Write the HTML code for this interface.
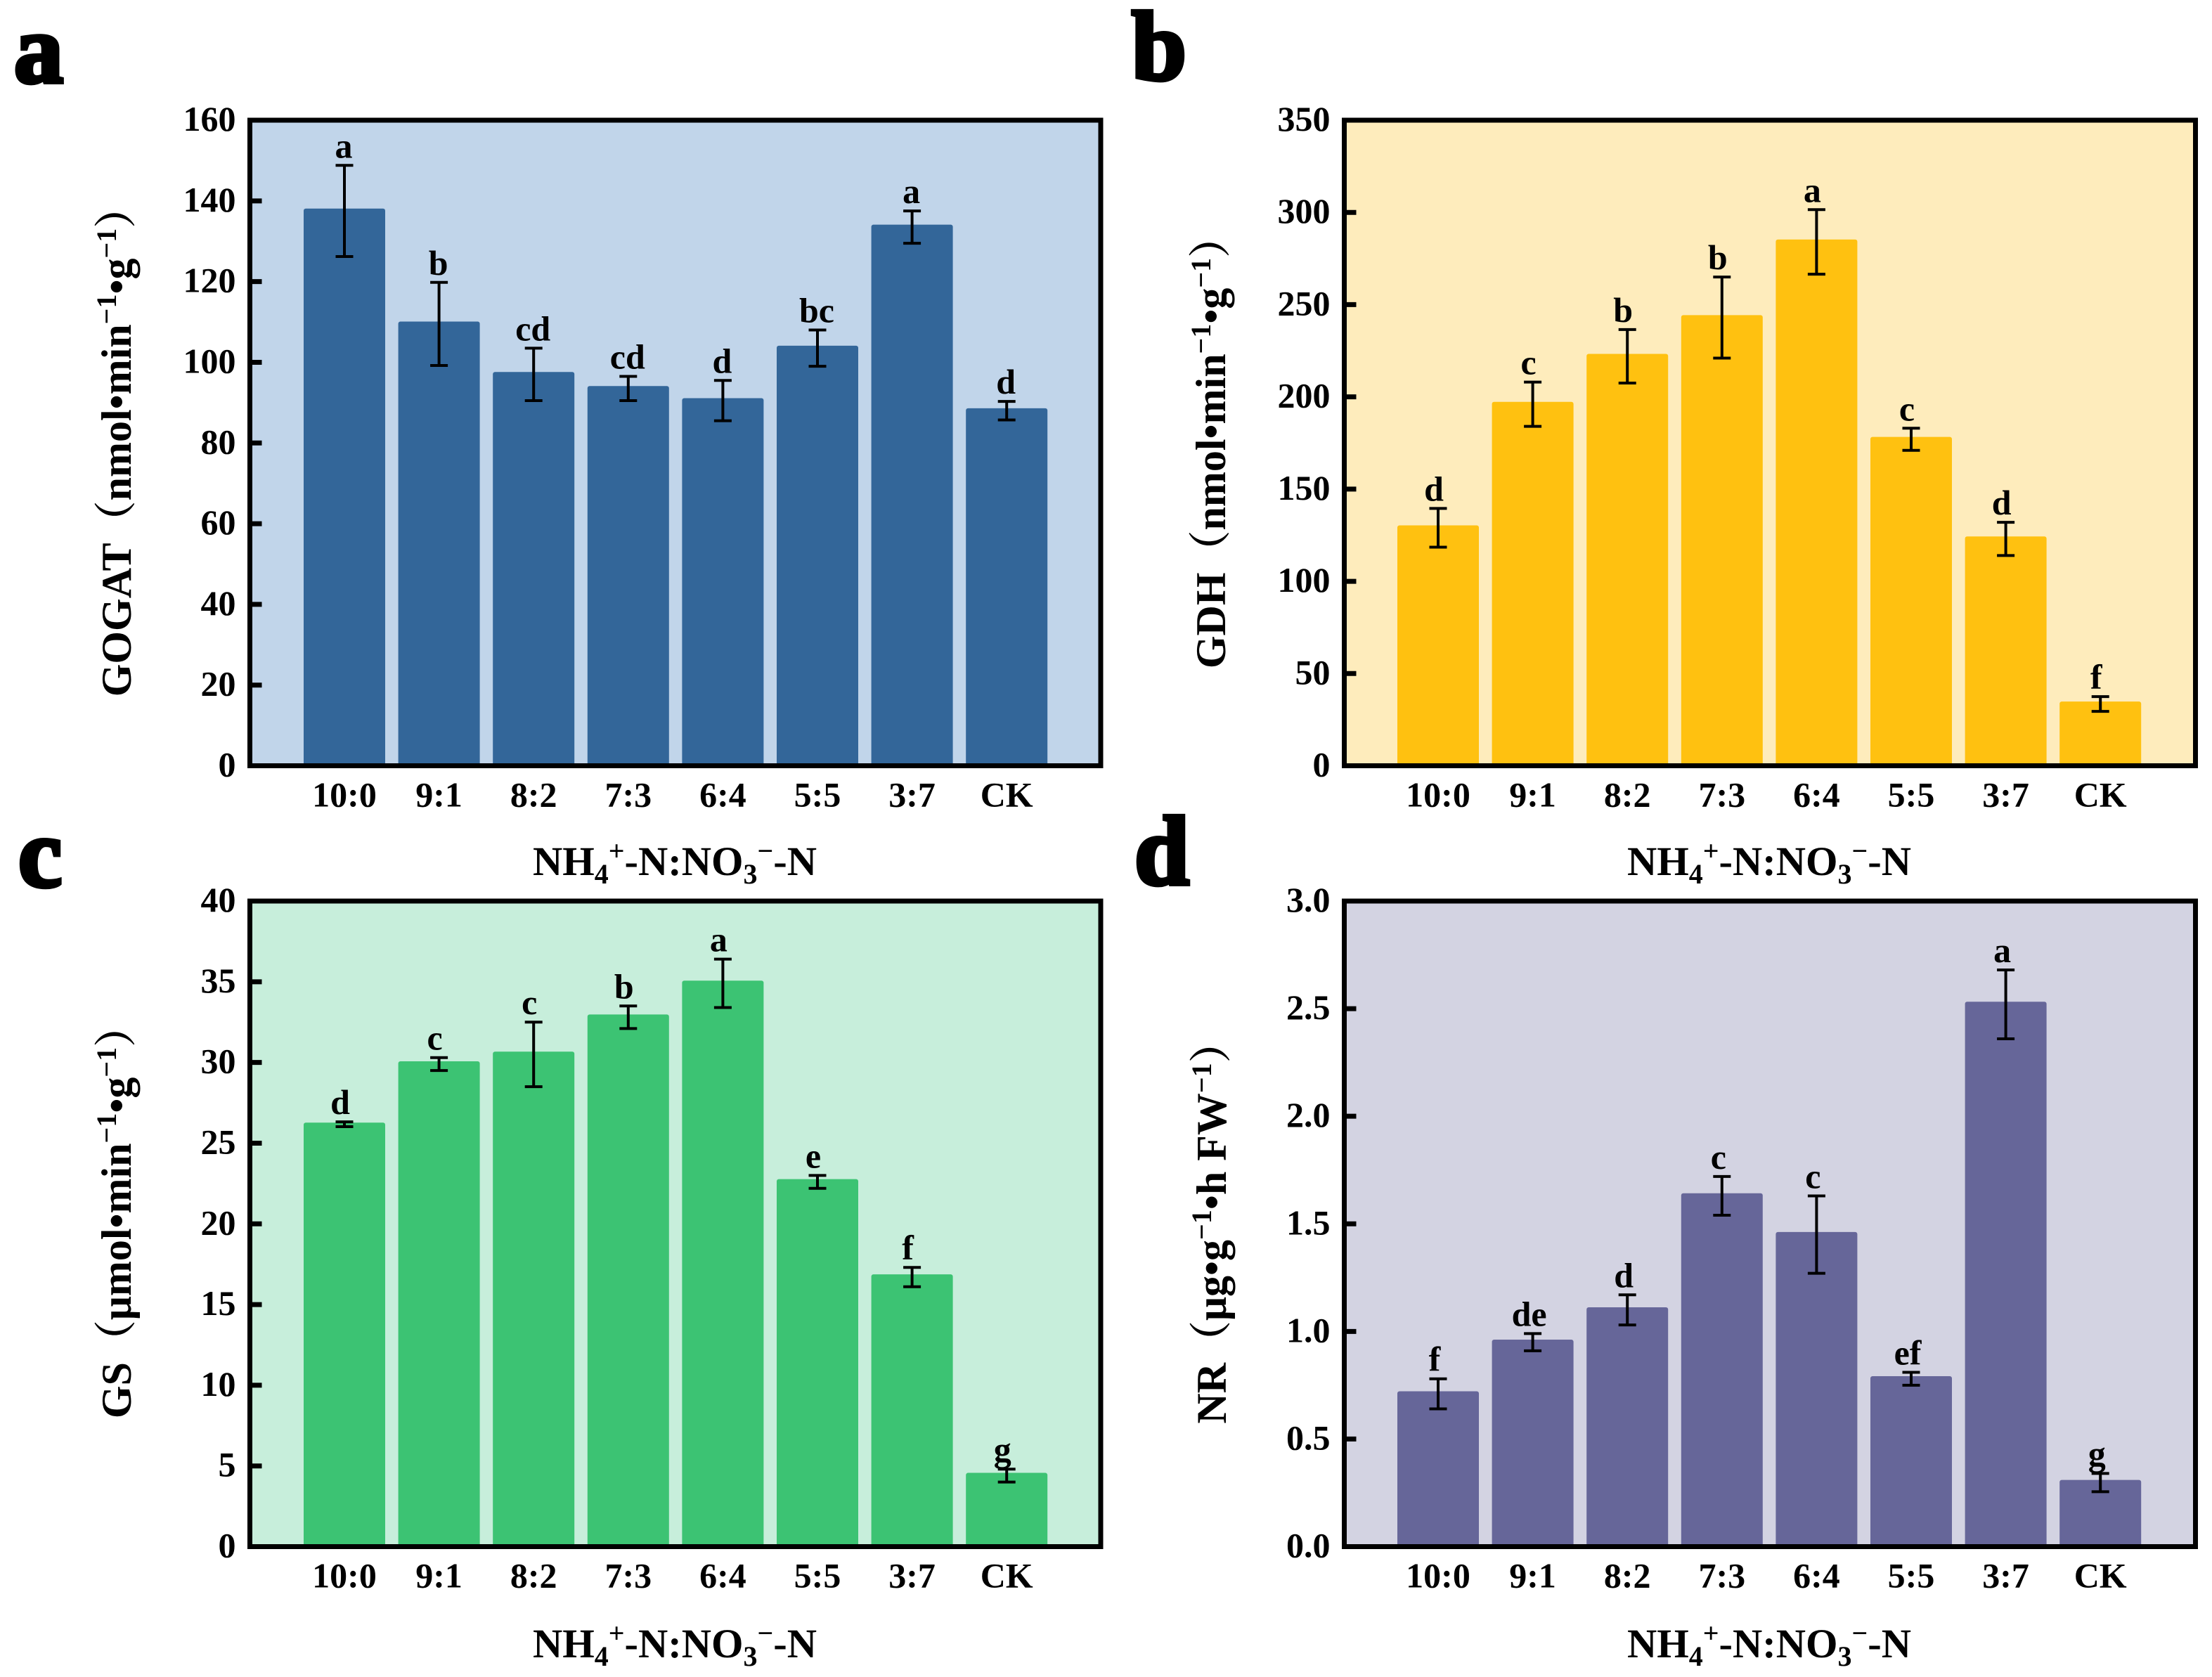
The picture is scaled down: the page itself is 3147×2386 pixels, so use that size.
<!DOCTYPE html>
<html lang="en">
<head>
<meta charset="utf-8">
<title>Nitrogen metabolism enzyme activity under NH4+-N:NO3--N ratios</title>
<style>
html,body{margin:0;padding:0;background:#fff;}
svg{display:block;}
text{font-family:"Liberation Serif","Noto Serif CJK SC",serif;font-weight:bold;fill:#000;}
.tick{font-size:50px;}
.axis-title{font-size:60px;}
.x-title{font-size:58.5px;}
.panel-letter{font-size:140px;stroke:#000;stroke-width:6px;}
.sig{font-size:50px;}
</style>
</head>
<body>
<svg id="figure" xmlns="http://www.w3.org/2000/svg" width="3147" height="2386" viewBox="0 0 3147 2386">
  <g id="panel-a"></g>
  <g id="panel-b"></g>
  <g id="panel-c"></g>
  <g id="panel-d"></g>

  <text class="panel-letter" x="20" y="117">a</text>
  <text class="panel-letter" x="1610" y="113">b</text>
  <text class="panel-letter" x="26" y="1261">c</text>
  <text class="panel-letter" x="1614" y="1258">d</text>

  <text class="axis-title" transform="translate(186,628) rotate(-90)" text-anchor="middle">GOGAT（nmol•min<tspan font-size="40" dy="-21">−1</tspan><tspan dy="21">•g</tspan><tspan font-size="40" dy="-21">−1</tspan><tspan dy="21">）</tspan></text>
  <text class="axis-title" transform="translate(1743,629) rotate(-90)" text-anchor="middle">GDH（nmol•min<tspan font-size="40" dy="-21">−1</tspan><tspan dy="21">•g</tspan><tspan font-size="40" dy="-21">−1</tspan><tspan dy="21">）</tspan></text>
  <text class="axis-title" transform="translate(186,1724) rotate(-90)" text-anchor="middle">GS（μmol•min<tspan font-size="40" dy="-21">−1</tspan><tspan dy="21">•g</tspan><tspan font-size="40" dy="-21">−1</tspan><tspan dy="21">）</tspan></text>
  <text class="axis-title" transform="translate(1744,1739) rotate(-90)" text-anchor="middle">NR（μg•g<tspan font-size="40" dy="-21">−1</tspan><tspan dy="21">•h FW</tspan><tspan font-size="40" dy="-21">−1</tspan><tspan dy="21">）</tspan></text>

  <text class="x-title" x="960" y="1245" text-anchor="middle">NH<tspan font-size="40" dy="12">4</tspan><tspan font-size="40" dy="-33">+</tspan><tspan dy="21">-N:NO</tspan><tspan font-size="40" dy="12">3</tspan><tspan font-size="40" dy="-33">−</tspan><tspan dy="21">-N</tspan></text>
  <text class="x-title" x="2517" y="1245" text-anchor="middle">NH<tspan font-size="40" dy="12">4</tspan><tspan font-size="40" dy="-33">+</tspan><tspan dy="21">-N:NO</tspan><tspan font-size="40" dy="12">3</tspan><tspan font-size="40" dy="-33">−</tspan><tspan dy="21">-N</tspan></text>
  <text class="x-title" x="960" y="2358" text-anchor="middle">NH<tspan font-size="40" dy="12">4</tspan><tspan font-size="40" dy="-33">+</tspan><tspan dy="21">-N:NO</tspan><tspan font-size="40" dy="12">3</tspan><tspan font-size="40" dy="-33">−</tspan><tspan dy="21">-N</tspan></text>
  <text class="x-title" x="2517" y="2358" text-anchor="middle">NH<tspan font-size="40" dy="12">4</tspan><tspan font-size="40" dy="-33">+</tspan><tspan dy="21">-N:NO</tspan><tspan font-size="40" dy="12">3</tspan><tspan font-size="40" dy="-33">−</tspan><tspan dy="21">-N</tspan></text>
</svg>
<script>
var categories = ['10:0','9:1','8:2','7:3','6:4','5:5','3:7','CK'];

var gogatTicks = ['0','20','40','60','80','100','120','140','160'];
var gogatValues = [138.1,110.1,97.6,94.1,91.1,104.1,134.1,88.6];
var gogatErrorsUp = [10.7,9.7,5.9,2.4,4.4,3.9,3.4,1.7];
var gogatErrorsDown = [11.9,10.9,7.1,3.6,5.6,5.1,4.6,2.9];
var gogatLetters = ['a','b','cd','cd','d','bc','a','d'];

var gdhTicks = ['0','50','100','150','200','250','300','350'];
var gdhValues = [130.3,197.3,223.3,244.3,285.3,178.3,124.3,34.8];
var gdhErrorsUp = [9.2,10.7,13.2,20.7,16.2,4.7,7.7,2.7];
var gdhErrorsDown = [11.8,13.3,15.8,23.3,18.8,7.3,10.3,5.3];
var gdhLetters = ['d','c','b','b','a','c','d','f'];

var gsTicks = ['0','5','10','15','20','25','30','35','40'];
var gsValues = [26.27,30.07,30.67,32.97,35.07,22.77,16.87,4.57];
var gsErrorsUp = [0.05,0.23,1.83,0.53,1.33,0.23,0.43,0.23];
var gsErrorsDown = [0.25,0.57,2.17,0.87,1.67,0.57,0.77,0.57];
var gsLetters = ['d','c','c','b','a','e','f','g'];

var nrTicks = ['0.0','0.5','1.0','1.5','2.0','2.5','3.0'];
var nrValues = [0.722,0.962,1.112,1.642,1.462,0.792,2.532,0.31];
var nrErrorsUp = [0.058,0.028,0.058,0.078,0.168,0.018,0.148,0.03];
var nrErrorsDown = [0.082,0.052,0.082,0.102,0.192,0.042,0.172,0.055];
var nrLetters = ['f','de','d','c','c','ef','a','g'];

var SVGNS = 'http://www.w3.org/2000/svg';

function make(parent, tag, attrs) {
  var el = document.createElementNS(SVGNS, tag);
  for (var k in attrs) { el.setAttribute(k, attrs[k]); }
  parent.appendChild(el);
  return el;
}

function drawPanel(id, box, colors, ticks, values, errUp, errDown, letters) {
  var g = document.getElementById(id);
  var tickMax = parseFloat(ticks[ticks.length - 1]);
  var yScale = function (v) { return box.bottom - (v / tickMax) * (box.bottom - box.top); };
  var xScale = function (i) { return box.firstCenter + i * box.step; };

  var bg = make(g, 'rect', {x: box.left, y: box.top, width: box.right - box.left, height: box.bottom - box.top, fill: colors.bg});
  
  

  values.forEach(function (v, i) {
    var cx = xScale(i);
    var top = yScale(v);
    var bar = make(g, 'rect', {x: cx - box.barWidth / 2, y: top, width: box.barWidth, height: box.bottom - top + 1, rx: 3, fill: colors.bar});
    
    
  });

  values.forEach(function (v, i) {
    var cx = xScale(i);
    var yHi = yScale(v + errUp[i]);
    var yLo = yScale(v - errDown[i]);
    var err = make(g, 'path', {d: 'M' + cx + ' ' + yHi + 'V' + yLo + 'M' + (cx - 12.5) + ' ' + yHi + 'H' + (cx + 12.5) + 'M' + (cx - 12.5) + ' ' + yLo + 'H' + (cx + 12.5), stroke: '#000', 'stroke-width': 4, fill: 'none'});
    
    

    var sig = make(g, 'text', {x: cx + box.letterDx, y: yHi - 11, 'text-anchor': 'middle', 'class': 'sig'});
    sig.textContent = letters[i];
    
    
  });

  ticks.forEach(function (t) {
    var v = parseFloat(t);
    var y = yScale(v);
    if (v > 0 && v < tickMax) {
      var mark = make(g, 'line', {x1: box.left, x2: box.left + 17, y1: y, y2: y, stroke: '#000', 'stroke-width': 7});
      
      
    }
    var label = make(g, 'text', {x: box.left - 20, y: y + 15, 'text-anchor': 'end', 'class': 'tick'});
    label.textContent = t;
    
    
  });

  categories.forEach(function (c, i) {
    var label = make(g, 'text', {x: xScale(i), y: box.bottom + 58, 'text-anchor': 'middle', 'class': 'tick'});
    label.textContent = c;
    
    
  });

  var frame = make(g, 'rect', {x: box.left, y: box.top, width: box.right - box.left, height: box.bottom - box.top, fill: 'none', stroke: '#000', 'stroke-width': 7});
  
  
}

var leftX = {left: 355.5, right: 1566, firstCenter: 490, step: 134.6, barWidth: 116};
var rightX = {left: 1912.5, right: 3123.5, firstCenter: 2046, step: 134.6, barWidth: 116};

function boxFor(xs, top, bottom, letterDx) {
  return {left: xs.left, right: xs.right, firstCenter: xs.firstCenter, step: xs.step, barWidth: xs.barWidth, top: top, bottom: bottom, letterDx: letterDx};
}

drawPanel('panel-a', boxFor(leftX, 171, 1089.5, -1), {bg: '#c1d5ea', bar: '#336699'}, gogatTicks, gogatValues, gogatErrorsUp, gogatErrorsDown, gogatLetters);
drawPanel('panel-b', boxFor(rightX, 171, 1089.5, -6), {bg: '#feecbc', bar: '#ffc110'}, gdhTicks, gdhValues, gdhErrorsUp, gdhErrorsDown, gdhLetters);
drawPanel('panel-c', boxFor(leftX, 1282, 2200.5, -6), {bg: '#c7eedb', bar: '#3cc373'}, gsTicks, gsValues, gsErrorsUp, gsErrorsDown, gsLetters);
drawPanel('panel-d', boxFor(rightX, 1282, 2200.5, -5), {bg: '#d3d3e2', bar: '#666699'}, nrTicks, nrValues, nrErrorsUp, nrErrorsDown, nrLetters);
</script>
</body>
</html>
